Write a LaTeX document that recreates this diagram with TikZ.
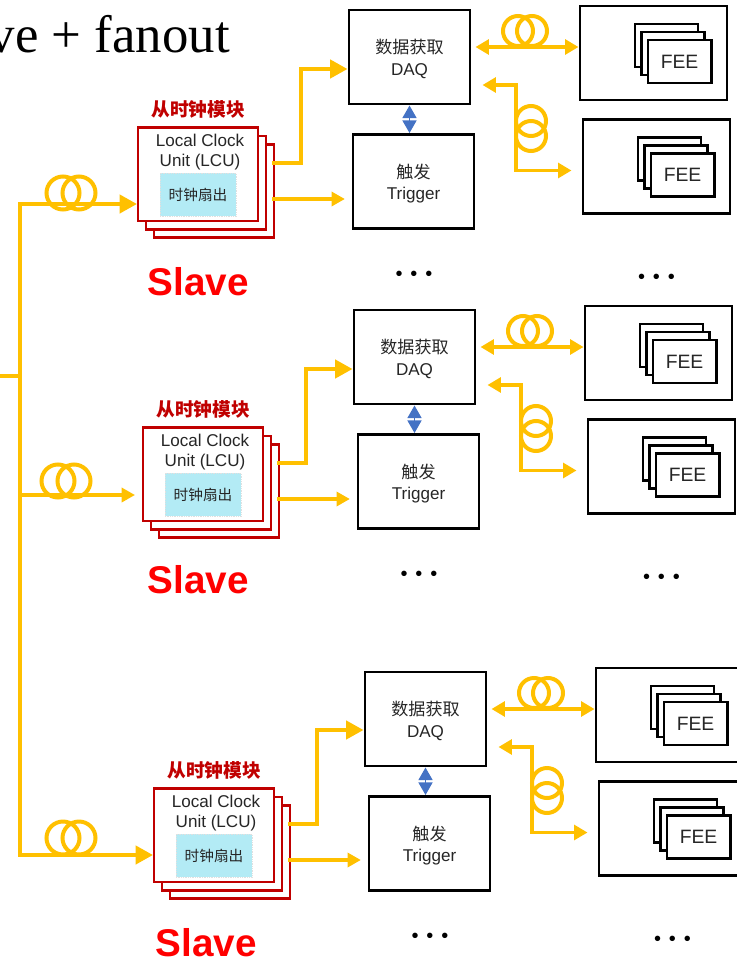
\documentclass[tikz,border=0pt]{standalone}
\usepackage{fontspec}
\setmainfont{Liberation Sans}
\newfontfamily\cjk{Noto Sans CJK SC}
\newfontfamily\titlefont{Liberation Serif}
\usepackage{xcolor}
\usetikzlibrary{arrows.meta,positioning}
\definecolor{fibrec}{HTML}{FFC000}
\definecolor{syncc}{HTML}{4472C4}
\definecolor{lcuc}{HTML}{C00000}
\definecolor{fanc}{HTML}{B3EBF5}
\definecolor{inkc}{HTML}{262626}
\newcommand{\threedots}{\textbullet\hspace{5.9pt}\textbullet\hspace{5.9pt}\textbullet}
\tikzset{
  box/.style={rectangle, draw=black, fill=white, line width=2.2pt, align=center, text=inkc,
              inner sep=0pt, font=\fontsize{12.8pt}{15.8pt}\selectfont},
  sysbox/.style={box, minimum width=90.75pt, minimum height=70.5pt},
  feeframe/.style={box, minimum width=110.25pt, minimum height=70.5pt},
  feebox/.style={box, line width=1.9pt, minimum width=47.5pt, minimum height=32.5pt,
                 font=\fontsize{14.5pt}{17pt}\selectfont},
  lcubox/.style={box, draw=lcuc, minimum width=90pt, minimum height=70pt},
  fanbox/.style={rectangle, fill=fanc, draw=black!12, densely dotted, line width=0.3pt,
                 minimum width=57pt, minimum height=32.5pt, inner sep=0pt, text=inkc,
                 font=\cjk\fontsize{11pt}{13pt}\selectfont},
  lcutext/.style={align=center, inner sep=0pt, text=inkc, font=\fontsize{12.8pt}{15pt}\selectfont},
  lcuname/.style={inner sep=0pt, text=lcuc, font=\cjk\bfseries\fontsize{14pt}{16pt}\selectfont},
  slave/.style={inner sep=0pt, text=red, font=\bfseries\fontsize{29pt}{32pt}\selectfont},
  gap/.style={inner sep=0pt, text=black, font=\fontsize{15pt}{17pt}\selectfont},
  coil/.style={circle, draw=fibrec, line width=3pt, minimum size=22.5pt, inner sep=0pt},
  coilbig/.style={coil, minimum size=24.75pt},
  fibre/.style={-{Triangle[length=13pt,width=13.5pt]}, line width=3pt, draw=fibrec},
  fibrethin/.style={-{Triangle[length=10pt,width=10.5pt]}, line width=2.7pt, draw=fibrec},
  fibreboth/.style={{Triangle[length=10pt,width=11pt]}-{Triangle[length=10pt,width=11pt]},
                    line width=2.7pt, draw=fibrec},
  fibrefwd/.style={-{Triangle[length=10pt,width=10.5pt]}, line width=3pt, draw=fibrec},
  sync/.style={{Triangle[length=9.5pt,width=10.5pt]}-{Triangle[length=9.5pt,width=10.5pt]},
               line width=1.3pt, draw=syncc},
}
\begin{document}
\begin{tikzpicture}[x=0.75pt, y=-0.75pt]
  \useasboundingbox (0,0) rectangle (736,960);
  \node[anchor=base east, inner sep=0pt, text=black, font=\titlefont\fontsize{39.6pt}{44pt}\selectfont]
    (title) at (230,52) {ve + fanout};

  % one readout group: DAQ, trigger and two FEE frames
  \foreach \i/\dx/\dy in {1/0/0, 2/5/300, 3/16/662} {
    \node[sysbox, text height=27pt, text depth=0pt] (daq\i) at (\dx+409.5,\dy+57) {{\cjk 数据获取}\\DAQ};
    \node[sysbox, text height=27pt, text depth=0pt] (trig\i) at (\dx+413.5,\dy+181.5) {{\cjk 触发}\\Trigger};
    \node[feeframe] (framea\i) at (\dx+653.5,\dy+53) {};
    \node[feeframe] (frameb\i) at (\dx+656.5,\dy+166.5) {};
    \node[feebox] (feeac\i) at (\dx+666.5,\dy+45.5) {};
    \node[feebox, xshift=4.9pt, yshift=-6pt] (feeab\i) at (feeac\i) {};
    \node[feebox, xshift=4.9pt, yshift=-6pt] (feea\i) at (feeab\i) {FEE};
    \node[feebox] (feebc\i) at (\dx+669.5,\dy+159) {};
    \node[feebox, xshift=4.9pt, yshift=-6pt] (feebb\i) at (feebc\i) {};
    \node[feebox, xshift=4.9pt, yshift=-6pt] (feeb\i) at (feebb\i) {FEE};
    \node[gap] (gapa\i) at (\dx+414,\dy+276) {\threedots};
    \node[gap] (gapb\i) at (\dx+656.5,\dy+279) {\threedots};
    \node[coil] (coila\i) at (\dx+518,\dy+31) {};
    \node[coil, xshift=10.5pt] (coilb\i) at (coila\i) {};
    \node[coil] (coilc\i) at (\dx+531,\dy+121) {};
    \node[coil, yshift=-11.25pt] (coild\i) at (coilc\i) {};
    \coordinate (rbend\i) at (\dx+516,\dy+130);
    \draw[sync] (daq\i.south) -- (daq\i.south |- trig\i.north);
    \draw[fibreboth] ([xshift=3pt,yshift=7.5pt]daq\i.east) -- ([yshift=4.5pt]framea\i.west);
    \draw[fibreboth] ([xshift=8.25pt,yshift=-21pt]daq\i.east) -| (rbend\i)
      |- ([xshift=-7.5pt,yshift=-3pt]frameb\i.west);
  }

  % clock modules, with their own offsets
  \foreach \i/\dx/\dy in {1/0/0, 2/5/300, 3/16/661} {
    \node[lcubox] (lcuc\i) at (\dx+214,\dy+191) {};
    \node[lcubox, xshift=-6pt, yshift=6.25pt] (lcub\i) at (lcuc\i) {};
    \node[lcubox, xshift=-6pt, yshift=6.25pt] (lcu\i) at (lcub\i) {};
    \node[fanbox] (fan\i) at (\dx+198,\dy+194.5) {时钟扇出};
    \node[lcutext, above=1.5pt of fan\i, xshift=1.5pt] (lcutxt\i) {Local Clock\\Unit (LCU)};
    \node[lcuname, above=6pt of lcu\i] (name\i) {从时钟模块};
    \coordinate (tap\i) at (\dx+272,\dy+163);
    \coordinate (dbend\i) at (\dx+301,\dy+69);
    \coordinate (trg\i) at (\dx+272,\dy+199);
    \draw[fibre] (tap\i) -| (dbend\i) -- (dbend\i -| daq\i.west);
    \draw[fibrethin] (trg\i) -- ([xshift=-5pt]trg\i -| trig\i.west);
  }

  \coordinate (stub) at (0,376);
  \coordinate (bus) at (20,376);
  \draw[fibrefwd, -] (stub) -- (bus);
  \foreach \i/\cx/\cy/\sx/\sy/\ex/\ey/\st in {1/63/193/198/282/137/204/fibre,
      2/58/481/198/580/135/495/fibrethin, 3/63/838/206/943/153/855/fibre} {
    \node[slave] (slave\i) at (\sx,\sy) {Slave};
    \node[coilbig] (coile\i) at (\cx,\cy) {};
    \node[coilbig, xshift=12pt] (coilf\i) at (coile\i) {};
    \coordinate (in\i) at (\ex,\ey);
    \draw[\st] (bus) |- (in\i);
  }
\end{tikzpicture}
\end{document}
